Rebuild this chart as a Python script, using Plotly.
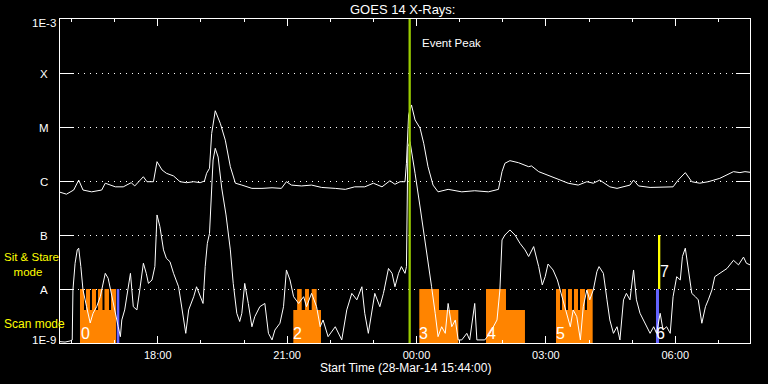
import numpy as np
import plotly.graph_objects as go
from datetime import datetime, timedelta

# ---------------- data ----------------
START = datetime(2014, 3, 28, 15, 44)
SPAN_MIN = 960          # plotted span in minutes
FLOOR = 1e-9

# GOES long channel (minutes after start, W/m^2)
long_t = [0, 9, 19, 26, 32, 44, 58, 63, 77, 88, 99, 104, 116, 121, 130, 135, 142, 148, 158, 167,
          176, 186, 195, 201, 204, 208, 211, 216, 223, 230, 237, 244, 253, 267, 281, 295, 308, 315, 322, 336,
          350, 364, 383, 397, 410, 424, 436, 448, 459, 466, 473, 480, 482, 485, 489, 494, 501, 506, 512, 519,
          526, 540, 559, 577, 596, 610, 615, 619, 626, 638, 652, 656, 666, 679, 693, 707, 721, 733, 742, 751,
          765, 775, 793, 798, 805, 821, 839, 853, 860, 870, 879, 890, 902, 918, 937, 946, 953, 960]
long_f = [6.2e-7, 5.7e-7, 6.8e-7, 1.04e-6, 6.8e-7, 6.3e-7, 6.8e-7, 9.1e-7, 7.8e-7, 7.8e-7,
          9.3e-7, 8.1e-7, 1.2e-6, 9.7e-7, 9.7e-7, 2.28e-6, 1.6e-6, 1.39e-6, 1.24e-6, 9.7e-7,
          9.3e-7, 9.7e-7, 9.3e-7, 1.0e-6, 1.39e-6, 1.72e-6, 7.6e-6, 2.0e-5, 1.17e-5, 5.7e-6,
          1.84e-6, 9.1e-7, 8.4e-7, 7.3e-7, 7.3e-7, 7.5e-7, 7.3e-7, 9.7e-7, 8.4e-7, 8.1e-7,
          8.4e-7, 7.6e-7, 7.3e-7, 7.0e-7, 7.8e-7, 7.8e-7, 9.1e-7, 7.8e-7, 1.01e-6, 8.7e-7,
          9.7e-7, 9.7e-7, 2.13e-6, 1.67e-5, 2.56e-5, 1.35e-5, 9.5e-6, 5.0e-6, 1.84e-6, 8.4e-7,
          6.3e-7, 7.0e-7, 6.3e-7, 6.6e-7, 6.3e-7, 7.0e-7, 1.49e-6, 2.13e-6, 2.38e-6, 2.18e-6,
          1.84e-6, 1.9e-6, 1.49e-6, 1.29e-6, 1.08e-6, 9.1e-7, 8.4e-7, 9.7e-7, 9.1e-7, 1.04e-6,
          7.8e-7, 7.3e-7, 8.4e-7, 1.04e-6, 8.1e-7, 7.6e-7, 7.6e-7, 7.8e-7, 1.04e-6, 1.43e-6,
          9.7e-7, 9.1e-7, 9.7e-7, 1.12e-6, 1.49e-6, 1.43e-6, 1.49e-6, 1.45e-6]

# GOES short channel
short_t = [0, 7, 14, 17, 18, 21, 24, 26, 29, 32, 37, 42, 46, 51, 56, 63, 67, 72, 77, 81,
           84, 86, 90, 95, 98, 102, 107, 111, 116, 120, 123, 128, 132, 135, 139, 144, 148, 153, 158, 165,
           169, 173, 175, 179, 186, 190, 195, 199, 202, 205, 208, 210, 213, 216, 220, 225, 231, 237, 241, 246,
           250, 253, 257, 262, 267, 271, 278, 285, 290, 295, 299, 306, 311, 315, 320, 325, 332, 339, 343, 350,
           357, 362, 366, 373, 383, 392, 399, 406, 413, 420, 424, 429, 434, 438, 445, 450, 457, 462, 466, 471,
           475, 480, 482, 484, 487, 489, 494, 501, 508, 512, 517, 522, 526, 531, 536, 540, 545, 550, 554, 559,
           566, 570, 577, 580, 591, 598, 608, 612, 615, 619, 626, 633, 640, 647, 652, 659, 666, 671, 675, 679,
           686, 692, 696, 703, 710, 714, 719, 724, 728, 733, 737, 742, 747, 750, 756, 761, 765, 770, 775, 779,
           784, 788, 793, 798, 802, 807, 812, 816, 821, 826, 830, 835, 839, 844, 849, 853, 858, 863, 866, 870,
           874, 879, 884, 888, 893, 898, 902, 907, 911, 918, 928, 937, 944, 951, 955, 960]
short_f = [1.06e-9, 1.04e-9, 1.09e-9, 1.14e-9, 9.6e-9, 3.0e-8, 5.3e-8, 5.7e-8, 2.6e-8, 9.6e-9,
           4.7e-9, 2.35e-9, 3.55e-9, 4.7e-9, 7.2e-9, 1.95e-8, 1.58e-8, 7.2e-9, 3.55e-9, 2.0e-9,
           1.31e-9, 2.67e-9, 4.1e-9, 1.1e-8, 1.95e-8, 4.7e-9, 4.1e-9, 9.6e-9, 3.0e-8, 1.95e-8,
           1.27e-8, 1.47e-8, 2.6e-8, 2.35e-7, 1.43e-7, 5.3e-8, 3.7e-8, 3.2e-8, 1.95e-8, 1.1e-8,
           4.7e-9, 2.0e-9, 1.51e-9, 4.1e-9, 7.2e-9, 1.1e-8, 7.2e-9, 5.4e-9, 2.6e-8, 7.0e-8,
           1.07e-7, 3.3e-7, 2.45e-6, 4.03e-6, 2.78e-6, 7.4e-7, 2.35e-7, 5.3e-8, 1.27e-8, 3.55e-9,
           2.5e-9, 3.55e-9, 1.27e-8, 5.4e-9, 2.0e-9, 3.07e-9, 4.7e-9, 5.4e-9, 1.51e-9, 1.14e-9,
           1.74e-9, 2.32e-9, 4.7e-9, 2.25e-8, 1.47e-8, 7.2e-9, 5.4e-9, 7.2e-9, 4.7e-9, 8.3e-9,
           4.7e-9, 2.0e-9, 2.67e-9, 1.31e-9, 2.0e-9, 1.14e-9, 4.1e-9, 8.3e-9, 6.3e-9, 1.1e-8,
           3.55e-9, 1.51e-9, 3.55e-9, 8.3e-9, 4.7e-9, 8.3e-9, 2.4e-8, 1.95e-8, 1.1e-8, 1.95e-8,
           2.6e-8, 1.95e-8, 2.6e-8, 4.3e-6, 5.34e-6, 3.75e-6, 1.39e-6, 3.3e-7, 8.1e-8, 3.4e-8,
           1.1e-8, 3.55e-9, 1.31e-9, 2.0e-9, 1.51e-9, 5.4e-9, 2.0e-9, 2.67e-9, 1.14e-9, 1.14e-9,
           1.51e-9, 1.14e-9, 5.4e-9, 1.14e-9, 1.14e-9, 1.51e-9, 2.67e-9, 9.6e-9, 8.1e-8, 1.0e-7,
           1.24e-7, 1.0e-7, 7.0e-8, 5.3e-8, 4.0e-8, 6.1e-8, 2.6e-8, 1.19e-8, 1.69e-8, 2.9e-8,
           2.25e-8, 1.47e-8, 9.6e-9, 4.1e-9, 2.0e-9, 4.1e-9, 3.07e-9, 1.14e-9, 4.7e-9, 9.6e-9,
           6.3e-9, 9.6e-9, 2.1e-8, 2.6e-8, 1.95e-8, 6.3e-9, 2.67e-9, 1.51e-9, 2.0e-9, 1.14e-9,
           6.3e-9, 8.3e-9, 6.3e-9, 2.25e-8, 6.3e-9, 3.55e-9, 2.67e-9, 2.0e-9, 1.51e-9, 2.0e-9,
           1.51e-9, 3.55e-9, 1.74e-9, 2.0e-9, 1.51e-9, 7.2e-9, 1.69e-8, 1.47e-8, 4.0e-8, 5.7e-8,
           2.6e-8, 8.3e-9, 7.2e-9, 6.3e-9, 2.32e-9, 4.7e-9, 6.3e-9, 9.6e-9, 1.69e-8, 1.95e-8,
           2.4e-8, 3.4e-8, 2.8e-8, 3.9e-8, 3.0e-8, 2.8e-8]

# Scan-mode rasters (minutes after start), heights in flux units
scan_start = [27.8, 27.8, 36.2, 44.5, 52.9, 61.9, 71.0,
              324.6, 329.9, 340.9, 350.2,
              499.9, 527.3,
              592.7, 620.5,
              690.1, 690.1, 698.4, 706.8, 715.1, 723.5, 733.2]
scan_end = [77.9, 33.4, 41.7, 50.1, 59.1, 68.2, 77.9,
            363.1, 336.3, 346.4, 357.1,
            527.3, 554.2,
            620.5, 646.9,
            741.1, 695.7, 704.0, 712.3, 720.7, 730.4, 741.1]
scan_top = [4.1e-9, 1e-8, 1e-8, 1e-8, 1e-8, 1e-8, 1e-8,
            4.1e-9, 1e-8, 1e-8, 1e-8,
            1e-8, 4.1e-9,
            1e-8, 4.1e-9,
            4.1e-9, 1e-8, 1e-8, 1e-8, 1e-8, 1e-8, 1e-8]

# Pointing changes (blue)
point_start = [78.9, 829.2]
point_end = [82.5, 833.4]
point_top = [1e-8, 1e-8]

# Sit & stare (yellow), drawn from A level upward
sit_start = [832.0, 835.2]
sit_end = [835.2, 836.2]
sit_top = [1e-7, 4.1e-8]
SIT_BASE = 1e-8

# Observation numbers
obs_label = ["0", "2", "3", "4", "5", "6", "7"]
obs_t = [35, 331, 506, 600, 697, 836, 841]
obs_f = [1.53e-9, 1.53e-9, 1.53e-9, 1.53e-9, 1.53e-9, 1.53e-9, 2.1e-8]

EVENT_T = 486.5

# GOES class levels
level_vals = [1e-9, 1e-8, 1e-7, 1e-6, 1e-5, 1e-4, 1e-3]
level_text = ["1E-9", "A", "B", "C", "M", "X", "1E-3"]


def tm(m):
    return START + timedelta(minutes=m)


def rect_path(starts, ends, bottoms, tops):
    xs, ys = [], []
    for s, e, b, top in zip(starts, ends, bottoms, tops):
        xs += [tm(s), tm(s), tm(e), tm(e), tm(s), None]
        ys += [b, top, top, b, b, None]
    return xs, ys


fig = go.Figure()

ORANGE = "#ff8400"
BLUE = "#6464ff"
YELLOW = "#ffff00"
GREEN = "#99cc00"

xs, ys = rect_path(scan_start, scan_end, [FLOOR] * len(scan_start), scan_top)
fig.add_trace(go.Scatter(x=xs, y=ys, mode="lines", fill="toself", fillcolor=ORANGE,
                         line=dict(width=0, color=ORANGE), hoverinfo="skip"))
xs, ys = rect_path(point_start, point_end, [FLOOR] * len(point_start), point_top)
fig.add_trace(go.Scatter(x=xs, y=ys, mode="lines", fill="toself", fillcolor=BLUE,
                         line=dict(width=0, color=BLUE), hoverinfo="skip"))
xs, ys = rect_path(sit_start, sit_end, [SIT_BASE] * len(sit_start), sit_top)
fig.add_trace(go.Scatter(x=xs, y=ys, mode="lines", fill="toself", fillcolor=YELLOW,
                         line=dict(width=0, color=YELLOW), hoverinfo="skip"))

fig.add_trace(go.Scatter(x=[tm(m) for m in short_t], y=short_f, mode="lines",
                         line=dict(color="white", width=1)))
fig.add_trace(go.Scatter(x=[tm(m) for m in long_t], y=long_f, mode="lines",
                         line=dict(color="white", width=1)))

fig.add_trace(go.Scatter(x=[tm(EVENT_T), tm(EVENT_T)], y=[level_vals[0], level_vals[-1]],
                         mode="lines", line=dict(color=GREEN, width=2.3)))

annotations = []
for lab, m, f in zip(obs_label, obs_t, obs_f):
    annotations.append(dict(x=tm(m), y=np.log10(f), xref="x", yref="y", text=lab,
                            showarrow=False, font=dict(size=16, color="white"),
                            xanchor="center", yanchor="middle"))

for v, txt in zip(level_vals, level_text):
    shift = -1
    if txt == "1E-3":
        shift = -4
    if txt == "1E-9":
        shift = 3
    annotations.append(dict(x=-0.0232, y=np.log10(v), xref="paper", yref="y", text=txt,
                            showarrow=False, font=dict(size=11.5, color="white"),
                            xanchor="center", yanchor="middle", yshift=shift))

annotations += [
    dict(x=0.4957, y=1.029, xref="paper", yref="paper", text="GOES 14 X-Rays:",
         showarrow=False, font=dict(size=13, color="white"), xanchor="center", yanchor="middle"),
    dict(x=0.5007, y=-0.078, xref="paper", yref="paper", text="Start Time (28-Mar-14 15:44:00)",
         showarrow=False, font=dict(size=12, color="white"), xanchor="center", yanchor="middle"),
    dict(x=tm(EVENT_T), y=0.927, xref="x", yref="paper", text="Event Peak", xshift=10,
         showarrow=False, font=dict(size=11.5, color="white"), xanchor="left", yanchor="middle"),
    dict(x=-0.0841, y=0.2423, xref="paper", yref="paper",
         text="Sit & Stare<br>&nbsp;&nbsp;&nbsp;mode", align="left",
         showarrow=False, font=dict(size=11.5, color=YELLOW), xanchor="left", yanchor="middle"),
    dict(x=-0.0841, y=0.0586, xref="paper", yref="paper", text="Scan mode",
         showarrow=False, font=dict(size=12, color=YELLOW), xanchor="left", yanchor="middle"),
]

fig.update_layout(
    width=768, height=384,
    margin=dict(l=60, r=18, t=19, b=41),
    paper_bgcolor="black", plot_bgcolor="black",
    showlegend=False,
    font=dict(family="Liberation Sans", color="white"),
    annotations=annotations,
)

fig.update_xaxes(
    type="date", range=[tm(0), tm(SPAN_MIN)],
    showline=True, linecolor="white", linewidth=1, mirror="ticks",
    ticks="inside", ticklen=7, tickcolor="white", tickwidth=1,
    tickmode="linear", tick0=tm(136), dtick=3 * 3600 * 1000,
    tickformat="%H:%M", tickfont=dict(size=11, color="white"),
    ticklabelstandoff=2,
    showgrid=False, zeroline=False,
    minor=dict(ticks="inside", ticklen=3, tickcolor="white", dtick=3600 * 1000,
               tick0=tm(16), showgrid=False),
)

fig.update_yaxes(
    type="log", range=[-9, -3],
    showline=True, linecolor="white", linewidth=1, mirror="ticks",
    ticks="inside", ticklen=14, tickcolor="white", tickwidth=1,
    tickvals=level_vals[1:-1], showticklabels=False,
    showgrid=True, gridcolor="white", gridwidth=1, griddash="1px,5px",
    zeroline=False,
)

fig.write_html(
    "out.html",
    config={"displayModeBar": False},
    post_script="document.body.style.margin='0';document.body.style.padding='0';"
                "document.body.style.overflow='hidden';document.body.style.background='black';",
)
